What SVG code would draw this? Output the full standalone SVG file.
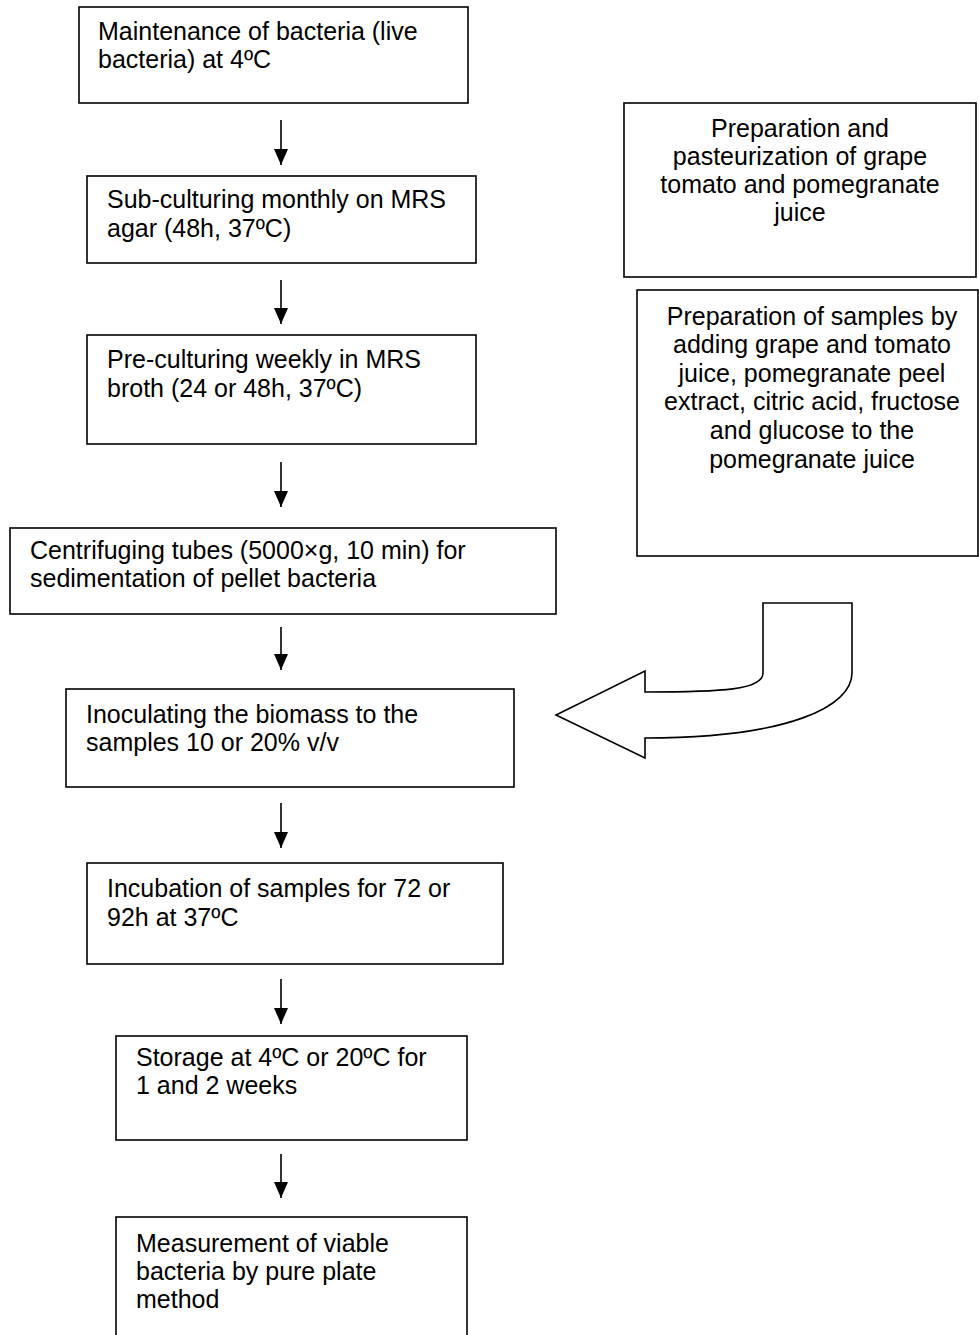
<svg xmlns="http://www.w3.org/2000/svg" width="979" height="1335" viewBox="0 0 979 1335">
<style>
  .box { fill: #ffffff; stroke: #000000; stroke-width: 1.6; }
  .t { font-family: "Liberation Sans", Arial, sans-serif; font-size: 25px; fill: #000000; }
  .c { text-anchor: middle; }
  .conn { stroke: #000000; stroke-width: 1.6; fill: none; }
  .big { fill: #ffffff; stroke: #000000; stroke-width: 1.6; stroke-linejoin: miter; }
</style>
<defs>
  <marker id="ah" viewBox="0 0 16 14" refX="16" refY="7" markerWidth="16" markerHeight="14" markerUnits="userSpaceOnUse" orient="auto">
    <path d="M0,0 L16,7 L0,14 Z" fill="#000000"/>
  </marker>
</defs>
<rect width="979" height="1335" fill="#ffffff"/>

<g id="n1">
  <rect class="box" x="79" y="7" width="389" height="96"/>
  <text class="t" x="98" y="40">Maintenance of bacteria (live</text>
  <text class="t" x="98" y="68">bacteria) at 4ºC</text>
</g>
<g id="n2">
  <rect class="box" x="87" y="176" width="389" height="87"/>
  <text class="t" x="107" y="208">Sub-culturing monthly on MRS</text>
  <text class="t" x="107" y="237">agar (48h, 37ºC)</text>
</g>
<g id="n3">
  <rect class="box" x="87" y="335" width="389" height="109"/>
  <text class="t" x="107" y="368">Pre-culturing weekly in MRS</text>
  <text class="t" x="107" y="397">broth (24 or 48h, 37ºC)</text>
</g>
<g id="n4">
  <rect class="box" x="10" y="528" width="546" height="86"/>
  <text class="t" x="30" y="559">Centrifuging tubes (5000×g, 10 min) for</text>
  <text class="t" x="30" y="587">sedimentation of pellet bacteria</text>
</g>
<g id="n5">
  <rect class="box" x="66" y="689" width="448" height="98"/>
  <text class="t" x="86" y="723">Inoculating the biomass to the</text>
  <text class="t" x="86" y="751">samples 10 or 20% v/v</text>
</g>
<g id="n6">
  <rect class="box" x="87" y="863" width="416" height="101"/>
  <text class="t" x="107" y="897">Incubation of samples for 72 or</text>
  <text class="t" x="107" y="926">92h at 37ºC</text>
</g>
<g id="n7">
  <rect class="box" x="116" y="1036" width="351" height="104"/>
  <text class="t" x="136" y="1066">Storage at 4ºC or 20ºC for</text>
  <text class="t" x="136" y="1094">1 and 2 weeks</text>
</g>
<g id="n8">
  <rect class="box" x="116" y="1217" width="351" height="140"/>
  <text class="t" x="136" y="1252">Measurement of viable</text>
  <text class="t" x="136" y="1280">bacteria by pure plate</text>
  <text class="t" x="136" y="1308">method</text>
</g>
<g id="r1">
  <rect class="box" x="624" y="103" width="352" height="174"/>
  <text class="t c" x="800" y="137">Preparation and</text>
  <text class="t c" x="800" y="165">pasteurization of grape</text>
  <text class="t c" x="800" y="193">tomato and pomegranate</text>
  <text class="t c" x="800" y="221">juice</text>
</g>
<g id="r2">
  <rect class="box" x="637" y="290" width="341" height="266"/>
  <text class="t c" x="812" y="325">Preparation of samples by</text>
  <text class="t c" x="812" y="353">adding grape and tomato</text>
  <text class="t c" x="812" y="382">juice, pomegranate peel</text>
  <text class="t c" x="812" y="410">extract, citric acid, fructose</text>
  <text class="t c" x="812" y="439">and glucose to the</text>
  <text class="t c" x="812" y="468">pomegranate juice</text>
</g>

<g id="connectors">
  <line class="conn" x1="281" y1="120" x2="281" y2="165" marker-end="url(#ah)"/>
  <line class="conn" x1="281" y1="280" x2="281" y2="324" marker-end="url(#ah)"/>
  <line class="conn" x1="281" y1="462" x2="281" y2="507" marker-end="url(#ah)"/>
  <line class="conn" x1="281" y1="627" x2="281" y2="670" marker-end="url(#ah)"/>
  <line class="conn" x1="281" y1="803" x2="281" y2="848" marker-end="url(#ah)"/>
  <line class="conn" x1="281" y1="979" x2="281" y2="1024" marker-end="url(#ah)"/>
  <line class="conn" x1="281" y1="1154" x2="281" y2="1198" marker-end="url(#ah)"/>
  <path class="big" d="M763,603 L852,603 L852,673 C852,706 790,738 645,738 L645,758 L556,715 L645,671 L645,692 C722,692 763,690 763,673 Z"/>
</g>
</svg>
